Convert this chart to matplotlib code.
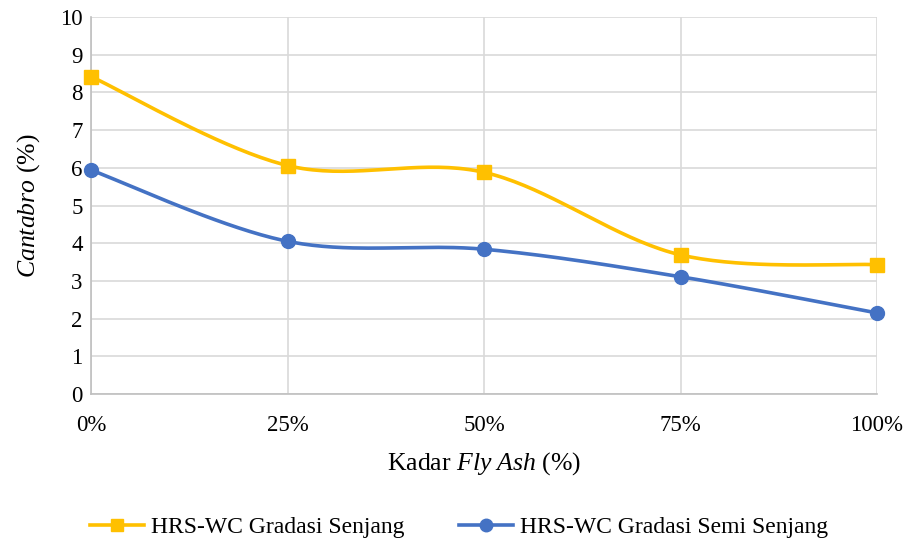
import numpy as np
import matplotlib
matplotlib.use("Agg")
import matplotlib.pyplot as plt
from matplotlib.lines import Line2D

categories = ["0%", "25%", "50%", "75%", "100%"]
senjang = [8.42, 6.06, 5.88, 3.69, 3.43]
semi_senjang = [5.94, 4.05, 3.84, 3.11, 2.15]

plt.rcParams['font.family'] = ['Liberation Serif', 'DejaVu Serif']
plt.rcParams['mathtext.fontset'] = 'custom'
plt.rcParams['mathtext.rm'] = 'Liberation Serif'
plt.rcParams['mathtext.it'] = 'Liberation Serif:italic'


def smooth(x, y, n=40):
    x = np.asarray(x, float)
    y = np.asarray(y, float)
    xs, ys = [], []
    m = len(x)
    for i in range(m - 1):
        p0 = np.array([x[max(i - 1, 0)], y[max(i - 1, 0)]])
        p1 = np.array([x[i], y[i]])
        p2 = np.array([x[i + 1], y[i + 1]])
        p3 = np.array([x[min(i + 2, m - 1)], y[min(i + 2, m - 1)]])
        c1 = p1 + (p2 - p0) / 6.0
        c2 = p2 - (p3 - p1) / 6.0
        t = np.linspace(0, 1, n)[:, None]
        pts = ((1 - t) ** 3) * p1 + 3 * ((1 - t) ** 2) * t * c1 + 3 * (1 - t) * t ** 2 * c2 + t ** 3 * p2
        xs.extend(pts[:, 0]); ys.extend(pts[:, 1])
    return np.array(xs), np.array(ys)


fig = plt.figure(figsize=(9.06, 5.43), dpi=100)
ax = fig.add_axes([91 / 906, 1 - 394 / 543, (877 - 91) / 906, (394 - 17) / 543])

x = np.arange(len(categories))
yellow = '#FFC000'
blue = '#4472C4'

sx, sy = smooth(x, senjang)
ax.plot(sx, sy, color=yellow, lw=2.6, zorder=3, clip_on=False)
ax.plot(x, senjang, ls='none', marker='s', ms=10, color=yellow, zorder=4, clip_on=False)
sx, sy = smooth(x, semi_senjang)
ax.plot(sx, sy, color=blue, lw=2.6, zorder=3, clip_on=False)
ax.plot(x, semi_senjang, ls='none', marker='o', ms=10, color=blue, zorder=4, clip_on=False)

ax.set_xlim(0, len(categories) - 1)
ax.set_ylim(0, 10)
ax.set_yticks(range(0, 11))
ax.set_xticks(x)
ax.set_xticklabels(categories)
ax.grid(True, color='#D9D9D9', lw=1.2)
ax.set_axisbelow(True)
for s in ['top', 'right']:
    ax.spines[s].set_visible(False)
ax.spines['left'].set_color('#BFBFBF')
ax.spines['bottom'].set_color('#BFBFBF')
ax.spines['left'].set_linewidth(1.2)
ax.spines['bottom'].set_linewidth(1.2)
ax.tick_params(length=0, labelsize=16.5, colors='black')
ax.tick_params(axis='y', pad=6)
ax.tick_params(axis='x', pad=15)

ax.set_xlabel('Kadar $\\mathit{Fly\\ Ash}$ (%)', fontsize=18.5, labelpad=10)
ax.set_ylabel('$\\mathit{Cantabro}$ (%)', fontsize=18.5, labelpad=13)

h1 = Line2D([], [], color=yellow, lw=2.6, marker='s', ms=9)
h2 = Line2D([], [], color=blue, lw=2.6, marker='o', ms=9)
fig.legend([h1, h2], ['HRS-WC Gradasi Senjang', 'HRS-WC Gradasi Semi Senjang'],
           loc='center', bbox_to_anchor=(0.5 + 6 / 906, 1 - 527 / 543), ncol=2, frameon=False,
           fontsize=17, handlelength=2.3, columnspacing=2.3, handletextpad=0.3)

fig.savefig('out.png', dpi=100)
